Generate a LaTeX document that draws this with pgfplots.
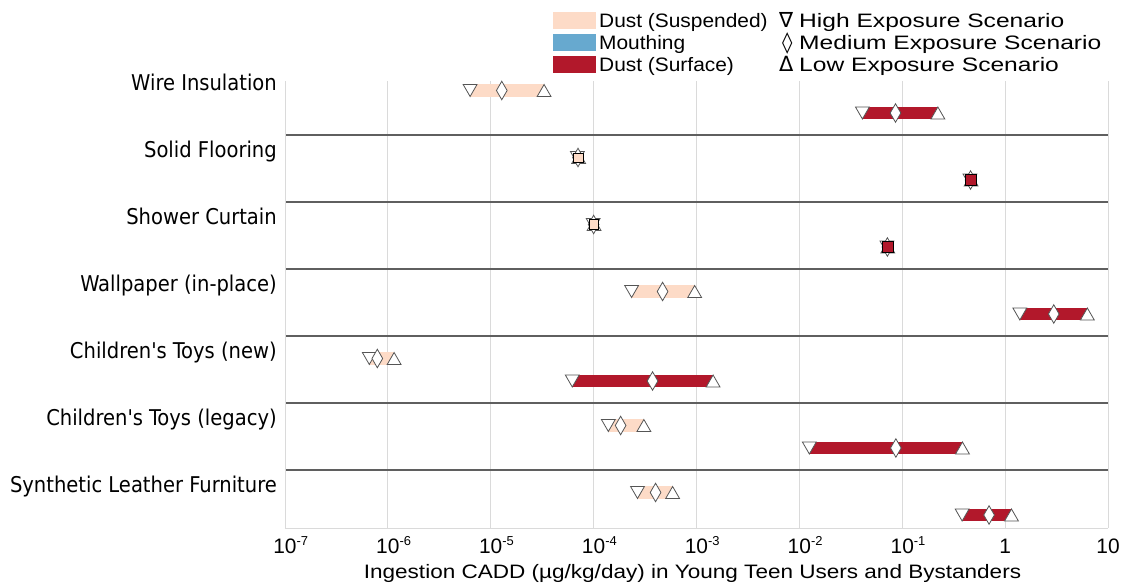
\documentclass[border=0pt]{standalone}
\usepackage{pgfplots}
\pgfplotsset{compat=1.18}
\usepackage{pgfplotstable}
\usepackage{fontspec}
\usepackage{graphicx}
\setmainfont{Liberation Sans}
\newfontfamily\catfont{DejaVu Sans Condensed}
\newfontfamily\symfont{DejaVu Sans}
\definecolor{suspc}{RGB}{253,219,199}
\definecolor{mouthc}{RGB}{103,169,207}
\definecolor{surfc}{RGB}{178,24,43}
\definecolor{mk}{RGB}{85,85,85}
\definecolor{sep}{RGB}{95,95,95}
\definecolor{gridc}{RGB}{218,218,218}
\newcommand\tl[1]{10\rlap{\raisebox{8bp}{\fontsize{13}{13}\selectfont -#1}}}

% y = row position, high / med / low exposure values
\pgfplotstableread{
y      high     med      low
-0.336 6.3e-6   1.28e-5  3.3e-5
-1.336 6.95e-5  7.05e-5  7.15e-5
-2.336 9.9e-5   1.0e-4   1.01e-4
-3.336 2.34e-4  4.68e-4  9.6e-4
-4.336 6.6e-7   7.9e-7   1.15e-6
-5.336 1.39e-4  1.83e-4  3.08e-4
-6.336 2.67e-4  4.0e-4   5.86e-4
}\susptab
\pgfplotstableread{
y      high     med      low
-0.672 0.041    0.086    0.222
-1.672 0.455    0.461    0.467
-2.672 0.0710   0.0717   0.0724
-3.672 1.39     2.97     6.3
-4.672 6.2e-5   3.74e-4  1.45e-3
-5.672 0.0125   0.0867   0.385
-6.672 0.382    0.698    1.153
}\surftab

\begin{document}
\begin{tikzpicture}[x=1bp,y=1bp]
\path[use as bounding box] (0,0) rectangle (1129,588);
\begin{axis}[
  at={(285bp,60bp)}, anchor=south west, scale only axis,
  width=823bp, height=447bp,
  xmode=log, xmin=1e-7, xmax=10, ymin=-6.866, ymax=-0.194,
  axis x line=bottom, axis y line=left,
  axis line style={gridc, line width=0.8bp, -},
  xtick={1e-7,1e-6,1e-5,1e-4,1e-3,1e-2,1e-1,1,10},
  xticklabels={\tl{7},\tl{6},\tl{5},\tl{4},\tl{3},\tl{2},\tl{1},1,10},
  minor xtick={},
  xmajorgrids, x grid style={gridc, line width=0.8bp},
  xtick style={draw=none},
  ytick={-1,-2,-3,-4,-5,-6}, yticklabels={},
  ymajorgrids, y grid style={sep, line width=1.2bp},
  ytick style={draw=none},
  xticklabel style={font=\fontsize{21}{21}\selectfont, anchor=base, yshift=-23bp, inner sep=0pt},
  clip=false,
]
% bars: suspended dust
\addplot[suspc, line width=12.5bp, forget plot] coordinates {(6.3e-6,-0.336) (3.3e-5,-0.336)};
\addplot[suspc, line width=12.5bp, forget plot] coordinates {(6.95e-5,-1.336) (7.15e-5,-1.336)};
\addplot[suspc, line width=12.5bp, forget plot] coordinates {(9.9e-5,-2.336) (1.01e-4,-2.336)};
\addplot[suspc, line width=12.5bp, forget plot] coordinates {(2.34e-4,-3.336) (9.6e-4,-3.336)};
\addplot[suspc, line width=12.5bp, forget plot] coordinates {(6.6e-7,-4.336) (1.15e-6,-4.336)};
\addplot[suspc, line width=12.5bp, forget plot] coordinates {(1.39e-4,-5.336) (3.08e-4,-5.336)};
\addplot[suspc, line width=12.5bp, forget plot] coordinates {(2.67e-4,-6.336) (5.86e-4,-6.336)};
% bars: surface dust
\addplot[surfc, line width=12.5bp, forget plot] coordinates {(0.041,-0.672) (0.222,-0.672)};
\addplot[surfc, line width=12.5bp, forget plot] coordinates {(0.455,-1.672) (0.467,-1.672)};
\addplot[surfc, line width=12.5bp, forget plot] coordinates {(0.0710,-2.672) (0.0724,-2.672)};
\addplot[surfc, line width=12.5bp, forget plot] coordinates {(1.39,-3.672) (6.3,-3.672)};
\addplot[surfc, line width=12.5bp, forget plot] coordinates {(6.2e-5,-4.672) (1.45e-3,-4.672)};
\addplot[surfc, line width=12.5bp, forget plot] coordinates {(0.0125,-5.672) (0.385,-5.672)};
\addplot[surfc, line width=12.5bp, forget plot] coordinates {(0.382,-6.672) (1.153,-6.672)};
% markers
\pgfplotsset{
  hi/.style={only marks, mark=triangle*, mark size=8bp,
    mark options={yshift=2bp, rotate=180, fill=white, draw=mk, line width=0.8bp}},
  lo/.style={only marks, mark=triangle*, mark size=8bp,
    mark options={yshift=-2bp, fill=white, draw=mk, line width=0.8bp}},
  md/.style={only marks, mark=diamond*, mark size=9.25bp,
    mark options={xscale=0.77, fill=white, draw=mk, line width=0.8bp}},
}
\addplot[hi] table[x=high, y=y] {\susptab};
\addplot[lo] table[x=low, y=y] {\susptab};
\addplot[md] table[x=med, y=y] {\susptab};
\addplot[hi] table[x=high, y=y] {\surftab};
\addplot[lo] table[x=low, y=y] {\surftab};
\addplot[md] table[x=med, y=y] {\surftab};
% narrow ranges: colour shows on top of the overlapping markers
\addplot[only marks, mark=square*, mark size=4.8bp, mark options={fill=suspc, draw=none}]
  coordinates {(7.05e-5,-1.336) (1.0e-4,-2.336)};
\addplot[only marks, mark=square*, mark size=5.5bp, mark options={fill=surfc, draw=none}]
  coordinates {(0.461,-1.672) (0.0717,-2.672)};
% category labels
\begin{scope}[every node/.style={anchor=base east, xshift=-8bp, inner sep=0pt,
    font={\catfont\fontsize{21.8}{21.8}\selectfont}}]
\node at (axis cs:1e-7,-0.336) {Wire Insulation};
\node at (axis cs:1e-7,-1.336) {Solid Flooring};
\node at (axis cs:1e-7,-2.336) {Shower Curtain};
\node at (axis cs:1e-7,-3.336) {Wallpaper (in-place)};
\node at (axis cs:1e-7,-4.336) {Children's Toys (new)};
\node at (axis cs:1e-7,-5.336) {Children's Toys (legacy)};
\node at (axis cs:1e-7,-6.336) {Synthetic Leather Furniture};
\end{scope}
\end{axis}
% x axis label
\node[anchor=base, inner sep=0pt, font=\fontsize{19.5}{19.5}\selectfont] at (692.5,9)
  {\scalebox{1.16}[1]{Ingestion CADD (µg/kg/day) in Young Teen Users and Bystanders}};
% legend
\fill[suspc]  (553,559) rectangle (596,576);
\fill[mouthc] (553,537) rectangle (596,554);
\fill[surfc]  (553,515) rectangle (596,532);
\begin{scope}[every node/.style={anchor=base west, inner sep=0pt, font=\fontsize{19.5}{19.5}\selectfont}]
\node at (599,560.7) {\scalebox{1.076}[1]{Dust (Suspended)}};
\node at (599,538)   {\scalebox{1.076}[1]{Mouthing}};
\node at (599,516.3) {\scalebox{1.076}[1]{Dust (Surface)}};
\node at (779,560.7) {\symfont\fontsize{21}{21}\selectfont ∇};
\node at (782,538)   {\symfont\fontsize{21}{21}\selectfont ◊};
\node at (779,516.3) {\symfont\fontsize{21}{21}\selectfont Δ};
\node at (799,560.7) {\scalebox{1.266}[1]{High Exposure Scenario}};
\node at (799,538)   {\scalebox{1.266}[1]{Medium Exposure Scenario}};
\node at (799,516.3) {\scalebox{1.266}[1]{Low Exposure Scenario}};
\end{scope}
\end{tikzpicture}
\end{document}
